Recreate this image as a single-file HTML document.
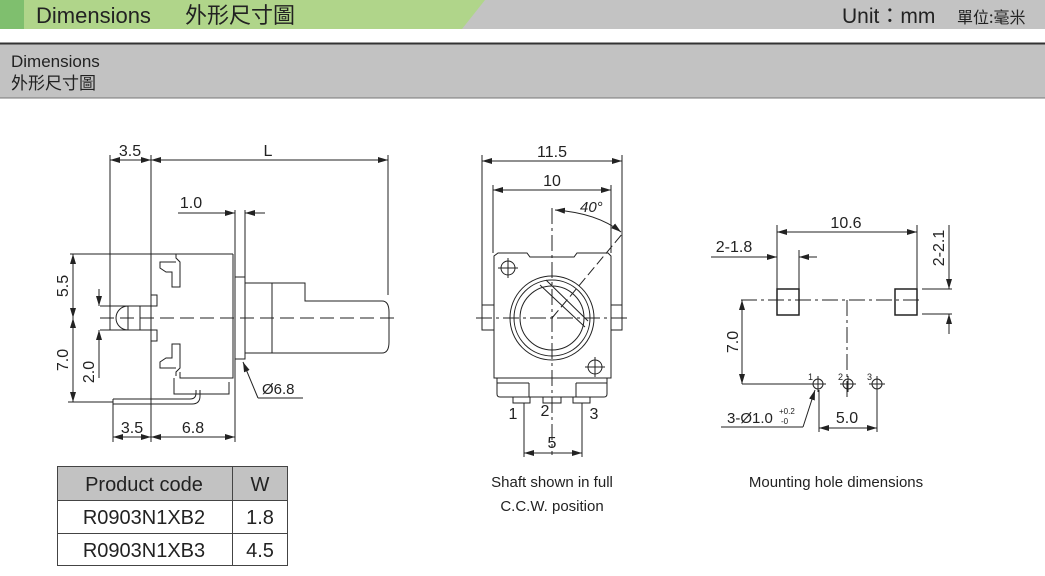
<!DOCTYPE html>
<html><head><meta charset="utf-8"><style>
html,body{margin:0;padding:0;background:#fff;width:1045px;height:576px;overflow:hidden}
svg{display:block}
text{font-family:"Liberation Sans","Noto Sans CJK TC",sans-serif;fill:#222}
</style></head><body>
<svg width="1045" height="576" viewBox="0 0 1045 576" xmlns="http://www.w3.org/2000/svg">
<defs>
<marker id="a" viewBox="0 0 10 6" refX="10" refY="3" markerWidth="10" markerHeight="6" orient="auto-start-reverse" markerUnits="userSpaceOnUse"><path d="M0,0 L10,3 L0,6 z" fill="#222"/></marker>
</defs>
<!-- header -->
<rect x="0" y="0" width="1045" height="29" fill="#c3c3c3"/>
<polygon points="0,0 485,0 462,29 0,29" fill="#b0d58a"/>
<rect x="0" y="0" width="24" height="29" fill="#7fbf6e"/>
<text x="36" y="23" font-size="22" fill="#1a2a10">Dimensions</text>
<text x="185" y="23" font-size="22" fill="#1a2a10" style="font-family:'Noto Sans CJK TC',sans-serif">外形尺寸圖</text>
<text x="842" y="23" font-size="21">Unit：mm</text>
<text x="957" y="23" font-size="16" style="font-family:'Noto Sans CJK TC',sans-serif">單位:毫米</text>
<rect x="0" y="43" width="1045" height="55" fill="#c2c2c2"/>
<line x1="0" y1="43.5" x2="1045" y2="43.5" stroke="#333" stroke-width="2"/>
<line x1="0" y1="98" x2="1045" y2="98" stroke="#777"/>
<text x="11" y="67" font-size="17">Dimensions</text>
<text x="11" y="89" font-size="17" style="font-family:'Noto Sans CJK TC',sans-serif">外形尺寸圖</text>

<g stroke="#222" stroke-width="1" fill="none">
<!-- LEFT VIEW -->
<line x1="110" y1="155" x2="110" y2="330"/>
<line x1="151" y1="155" x2="151" y2="442"/>
<line x1="388" y1="155" x2="388" y2="295"/>
<line x1="110" y1="160" x2="151" y2="160" marker-start="url(#a)" marker-end="url(#a)"/>
<line x1="151" y1="160" x2="388" y2="160" marker-start="url(#a)" marker-end="url(#a)"/>
<line x1="235" y1="210" x2="235" y2="442"/>
<line x1="245" y1="210" x2="245" y2="277"/>
<line x1="178" y1="213" x2="235" y2="213" marker-end="url(#a)"/>
<line x1="265" y1="213" x2="245" y2="213" marker-end="url(#a)"/>
<path d="M70,254 L233,254"/>
<path d="M233,254 L233,378 L180,378 L180,372"/>
<path d="M151,254 L151,295 L157,295 L157,306 L100,306"/>
<path d="M100,330 L157,330 L157,341 L151,341"/>
<path d="M176,254 L176,258 L180,262 L180,287 L172,287 L172,272 L166,272 L160,268 L160,262 L176,262"/>
<path d="M176,376 L176,372 L180,368 L180,344 L172,344 L172,358 L166,358 L160,362 L160,368 L176,368"/>
<path d="M174,378 L174,394 L229,394 L229,382"/>
<path d="M113,399 L190,399 Q196,399 196,393 L196,390 M113,404 L192,404 Q200,404 200,396 L200,390"/>
<path d="M113,399 L113,404"/>
<path d="M128,306 A12,12 0 0 0 128,330 M128,306 L128,330 M140,306 L140,330"/>
<rect x="235" y="277" width="10" height="82"/>
<rect x="245" y="283" width="27" height="70"/>
<path d="M272,283 L305,283 L305,301 L382,301 Q389,301 389,312 L389,342 Q389,353 382,353 L272,353"/>
<line x1="100" y1="318" x2="395" y2="318" stroke-dasharray="14,6"/>
<line x1="73" y1="254" x2="73" y2="318" marker-start="url(#a)" marker-end="url(#a)"/>
<line x1="73" y1="318" x2="73" y2="402" marker-start="url(#a)" marker-end="url(#a)"/>
<line x1="68" y1="402" x2="113" y2="402"/>
<line x1="99" y1="289" x2="99" y2="306" marker-end="url(#a)"/>
<line x1="99" y1="378" x2="99" y2="330" marker-end="url(#a)"/>
<line x1="113" y1="404" x2="113" y2="442"/>
<line x1="113" y1="437" x2="151" y2="437" marker-start="url(#a)" marker-end="url(#a)"/>
<line x1="151" y1="437" x2="235" y2="437" marker-start="url(#a)" marker-end="url(#a)"/>
<path d="M258,398 L243,362" marker-end="url(#a)"/>
<line x1="258" y1="398" x2="303" y2="398"/>

<!-- MIDDLE VIEW -->
<line x1="482" y1="155" x2="482" y2="305"/>
<line x1="622" y1="155" x2="622" y2="305"/>
<line x1="482" y1="161" x2="622" y2="161" marker-start="url(#a)" marker-end="url(#a)"/>
<line x1="493" y1="185" x2="493" y2="253"/>
<line x1="611" y1="185" x2="611" y2="253"/>
<line x1="493" y1="190" x2="611" y2="190" marker-start="url(#a)" marker-end="url(#a)"/>
<path d="M498,253 L527,253 L530,257 L574,257 L577,253 L608,253 L611,256 L611,378 L494,378 L494,256 Z"/>
<rect x="482" y="305" width="12" height="25"/>
<rect x="611" y="305" width="11" height="25"/>
<circle cx="552" cy="318" r="42"/>
<circle cx="552" cy="318" r="38"/>
<circle cx="552" cy="318" r="32"/>
<path d="M540,285 L585,327 M546,280 L588,321"/>
<circle cx="508" cy="268" r="7"/>
<line x1="498" y1="268" x2="518" y2="268"/><line x1="508" y1="258" x2="508" y2="278"/>
<circle cx="595" cy="367" r="7"/>
<line x1="585" y1="367" x2="605" y2="367"/><line x1="595" y1="357" x2="595" y2="377"/>
<path d="M497,378 L497,394 Q497,397 500,397 L604,397 Q607,397 607,394 L607,378"/>
<line x1="529" y1="383" x2="529" y2="397"/><line x1="576" y1="383" x2="576" y2="397"/>
<path d="M497,383 L529,383 M576,383 L607,383"/>
<rect x="513" y="397" width="17" height="6"/>
<rect x="543" y="397" width="18" height="6"/>
<rect x="573" y="397" width="17" height="6"/>
<line x1="552" y1="208" x2="552" y2="455" stroke-dasharray="16,4,3,4"/>
<line x1="476" y1="318" x2="628" y2="318" stroke-dasharray="16,4,3,4"/>
<line x1="552" y1="318" x2="623" y2="233" stroke-dasharray="10,4"/>
<path d="M555,210 Q597,213 621,232" marker-start="url(#a)" marker-end="url(#a)"/>
<line x1="524" y1="403" x2="524" y2="457"/>
<line x1="582" y1="403" x2="582" y2="457"/>
<line x1="524" y1="453" x2="582" y2="453" marker-start="url(#a)" marker-end="url(#a)"/>

<!-- RIGHT VIEW -->
<line x1="777" y1="225" x2="777" y2="289"/>
<line x1="917" y1="225" x2="917" y2="289"/>
<line x1="777" y1="232" x2="917" y2="232" marker-start="url(#a)" marker-end="url(#a)"/>
<line x1="799" y1="250" x2="799" y2="289"/>
<line x1="711" y1="257" x2="777" y2="257" marker-end="url(#a)"/>
<line x1="817" y1="257" x2="799" y2="257" marker-end="url(#a)"/>
<rect x="777" y="289" width="22" height="26" stroke-width="1.5"/>
<rect x="895" y="289" width="22" height="26" stroke-width="1.5"/>
<line x1="741" y1="300" x2="922" y2="300" stroke-dasharray="16,4,3,4"/>
<line x1="847" y1="300" x2="847" y2="400" stroke-dasharray="16,4,3,4"/>
<line x1="922" y1="289" x2="952" y2="289"/>
<line x1="922" y1="314" x2="952" y2="314"/>
<line x1="949" y1="225" x2="949" y2="289" marker-end="url(#a)"/>
<line x1="949" y1="334" x2="949" y2="314" marker-end="url(#a)"/>
<line x1="742" y1="300" x2="742" y2="384" marker-start="url(#a)" marker-end="url(#a)"/>
<line x1="742" y1="384" x2="812" y2="384"/>
<circle cx="818" cy="384" r="5"/><circle cx="848" cy="384" r="5"/><circle cx="877" cy="384" r="5"/>
<path d="M810,384 L826,384 M818,376 L818,392 M840,384 L856,384 M848,376 L848,392 M869,384 L885,384 M877,376 L877,392"/>
<line x1="819" y1="390" x2="819" y2="432"/>
<line x1="877" y1="390" x2="877" y2="432"/>
<line x1="819" y1="428" x2="877" y2="428" marker-start="url(#a)" marker-end="url(#a)"/>
<path d="M803,427 L815,390" marker-end="url(#a)"/>
<line x1="721" y1="427" x2="803" y2="427"/>

<rect x="57" y="466" width="231" height="34" fill="#c2c2c2" stroke="none"/>
<rect x="57.5" y="466.5" width="230" height="99" stroke="#444"/>
<line x1="57" y1="500.5" x2="288" y2="500.5" stroke="#444"/>
<line x1="57" y1="533.5" x2="288" y2="533.5" stroke="#444"/>
<line x1="232.5" y1="466" x2="232.5" y2="566" stroke="#444"/>
</g>

<g font-size="16">
<text x="130" y="156" text-anchor="middle">3.5</text>
<text x="268" y="156" text-anchor="middle">L</text>
<text x="191" y="208" text-anchor="middle">1.0</text>
<text transform="translate(68,286) rotate(-90)" text-anchor="middle">5.5</text>
<text transform="translate(68,360) rotate(-90)" text-anchor="middle">7.0</text>
<text transform="translate(94,372) rotate(-90)" text-anchor="middle">2.0</text>
<text x="132" y="433" text-anchor="middle">3.5</text>
<text x="193" y="433" text-anchor="middle">6.8</text>
<text x="262" y="394" font-size="15">Ø6.8</text>
<text x="552" y="157" text-anchor="middle">11.5</text>
<text x="552" y="186" text-anchor="middle">10</text>
<text x="580" y="212" font-style="italic" font-size="15">40°</text>
<text x="513" y="419" text-anchor="middle">1</text>
<text x="545" y="416" text-anchor="middle">2</text>
<text x="594" y="419" text-anchor="middle">3</text>
<text x="552" y="448" text-anchor="middle">5</text>
<text x="846" y="228" text-anchor="middle">10.6</text>
<text x="734" y="252" text-anchor="middle">2-1.8</text>
<text transform="translate(944,248) rotate(-90)" text-anchor="middle">2-2.1</text>
<text transform="translate(738,342) rotate(-90)" text-anchor="middle">7.0</text>
<text x="847" y="423" text-anchor="middle">5.0</text>
<text x="727" y="423" font-size="15">3-Ø1.0</text>
<text x="779" y="414" font-size="8">+0.2</text>
<text x="781" y="424" font-size="8">-0</text>
<text x="808" y="380" font-size="9">1</text>
<text x="838" y="380" font-size="9">2</text>
<text x="867" y="380" font-size="9">3</text>
</g>
<g font-size="15">
<text x="552" y="487" text-anchor="middle">Shaft shown in full</text>
<text x="552" y="511" text-anchor="middle">C.C.W. position</text>
<text x="836" y="487" text-anchor="middle">Mounting hole dimensions</text>
</g>
<g font-size="20">
<text x="144" y="491" text-anchor="middle">Product code</text>
<text x="260" y="491" text-anchor="middle">W</text>
<text x="144" y="524" text-anchor="middle">R0903N1XB2</text>
<text x="260" y="524" text-anchor="middle">1.8</text>
<text x="144" y="557" text-anchor="middle">R0903N1XB3</text>
<text x="260" y="557" text-anchor="middle">4.5</text>
</g>
</svg>
</body></html>
